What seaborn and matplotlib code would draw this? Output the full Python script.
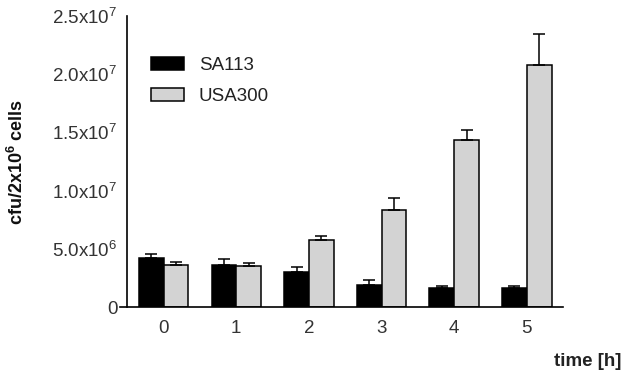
import numpy as np
import pandas as pd
import matplotlib
matplotlib.use("Agg")
import matplotlib.pyplot as plt
import seaborn as sns
from matplotlib.patches import Patch

# ---- data ----
times = ["0", "1", "2", "3", "4", "5"]
strains = ["SA113", "USA300"]
sa113 = [4.25e6, 3.6e6, 3.0e6, 1.9e6, 1.65e6, 1.65e6]
sa113_err = [0.35e6, 0.5e6, 0.45e6, 0.45e6, 0.2e6, 0.2e6]
usa300 = [3.6e6, 3.5e6, 5.75e6, 8.35e6, 14.3e6, 20.8e6]
usa300_err = [0.25e6, 0.3e6, 0.35e6, 1.0e6, 0.9e6, 2.6e6]
ytick_vals = [0, 5e6, 1e7, 1.5e7, 2e7, 2.5e7]
ytick_labels = ["0", r"$\mathregular{5.0x10^{6}}$", r"$\mathregular{1.0x10^{7}}$",
                r"$\mathregular{1.5x10^{7}}$", r"$\mathregular{2.0x10^{7}}$",
                r"$\mathregular{2.5x10^{7}}$"]

df = pd.DataFrame({
    "time": times * 2,
    "strain": [strains[0]] * 6 + [strains[1]] * 6,
    "cfu": sa113 + usa300,
})
errs = {strains[0]: sa113_err, strains[1]: usa300_err}
colors = {strains[0]: "#000000", strains[1]: "#d3d3d3"}

sns.set_style("white")
plt.rcParams["font.family"] = ["Liberation Sans", "DejaVu Sans"]
plt.rcParams["mathtext.fontset"] = "custom"
plt.rcParams["mathtext.rm"] = "Liberation Sans"
plt.rcParams["mathtext.bf"] = "Liberation Sans:bold"

fig = plt.figure(figsize=(6.25, 3.75), dpi=100)
ax = fig.add_axes([0.192, 0.181, 0.709, 0.777])

sns.barplot(data=df, x="time", y="cfu", hue="strain", palette=colors,
            width=0.68, gap=0, edgecolor="black", linewidth=1.1,
            errorbar=None, legend=False, ax=ax, saturation=1)

# error bars (upward only) placed on the bars seaborn drew
for container, s in zip(ax.containers, strains):
    xs = [p.get_x() + p.get_width() / 2 for p in container.patches]
    hs = [p.get_height() for p in container.patches]
    e = errs[s]
    ax.errorbar(xs, hs, yerr=[np.zeros(len(e)), e], fmt="none",
                ecolor="black", elinewidth=1.1, capsize=4, capthick=1.1,
                zorder=1)

ax.set_xlim(-0.6, 5.5)
ax.set_ylim(0, 2.5e7)
ax.set_yticks(ytick_vals)
ax.set_yticklabels(ytick_labels)
ax.spines["left"].set_position(("data", -0.5))
ax.spines["top"].set_visible(False)
ax.spines["right"].set_visible(False)
for sp in ["left", "bottom"]:
    ax.spines[sp].set_linewidth(1.2)
    ax.spines[sp].set_color("black")
ax.tick_params(axis="both", direction="out", width=1.2,
               colors="black", labelcolor="#333333", labelsize=13.5, pad=2)
ax.tick_params(axis="y", length=5)
ax.tick_params(axis="x", length=7)

ax.set_xlabel("")
ax.set_ylabel("")
fig.text(17 / 625, 1 - 162 / 375, r"cfu/2x10$\mathregular{^{6}}$ cells",
         rotation=90, ha="center", va="center", fontsize=13,
         fontweight="bold", color="#111111")
fig.text(0.995, 0.013, "time [h]", ha="right", va="bottom", fontsize=13.5,
         fontweight="bold", color="#222222")

handles = [Patch(facecolor=colors[s], edgecolor="black", linewidth=1.1, label=s)
           for s in strains]
ax.legend(handles=handles, loc="upper left", bbox_to_anchor=(0.053, 0.885),
          frameon=False, fontsize=13.5, handlelength=1.75, handleheight=0.7,
          labelspacing=0.75, handletextpad=0.8, borderaxespad=0,
          labelcolor="#222222")

fig.savefig("out.png", dpi=100)
